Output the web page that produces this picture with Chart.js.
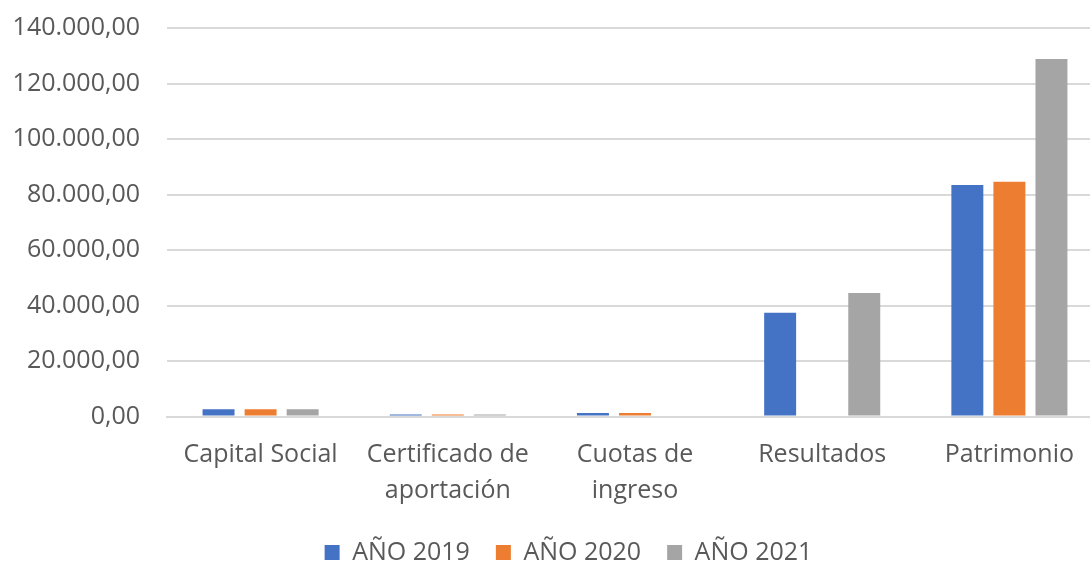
<!DOCTYPE html>
<html>
<head>
<meta charset="utf-8">
<script src="https://cdn.jsdelivr.net/npm/chart.js@4"></script>
<style>
  html, body { margin: 0; padding: 0; background: #fff; overflow: hidden; }
  #wrap { width: 1090px; height: 561px; overflow: hidden; }
</style>
</head>
<body>
<div id="wrap"><canvas id="myChart" width="1103" height="561"></canvas></div>
<script>
/* Datos ------------------------------------------------------------------ */
const categorias = [
  "Capital Social",
  ["Certificado de", "aportación"],
  ["Cuotas de", "ingreso"],
  "Resultados",
  "Patrimonio"
];
const anio2019 = [2600, 700, 1300, 37400, 83400];
const anio2020 = [2600, 700, 1300, 0, 84600];
const anio2021 = [2600, 700, 0, 44500, 128800];
const etiquetas = ["AÑO 2019", "AÑO 2020", "AÑO 2021"];
const colores = ["#4472C4", "#ED7D31", "#A5A5A5"];

/* Formato 140.000,00 --------------------------------------------------- */
function formato(v) {
  let partes = v.toFixed(2).split(".");
  partes[0] = partes[0].replace(/\B(?=(\d{3})+(?!\d))/g, ".");
  return partes.join(",");
}

const fuente = "'Open Sans', sans-serif";
const gris = "#595959";

/* Mover la leyenda un poco a la derecha ---------------------------------- */
const moverLeyenda = {
  id: "moverLeyenda",
  afterLayout(chart) {
    if (chart.legend) {
      chart.legend.left += 17;
      chart.legend.right += 17;
    }
  }
};

const data = {
  labels: categorias,
  datasets: [
    { label: etiquetas[0], data: anio2019, backgroundColor: colores[0] },
    { label: etiquetas[1], data: anio2020, backgroundColor: colores[1] },
    { label: etiquetas[2], data: anio2021, backgroundColor: colores[2] }
  ]
};

const config = {
  type: "bar",
  data: data,
  plugins: [moverLeyenda],
  options: {
    responsive: false,
    animation: false,
    datasets: {
      bar: { categoryPercentage: 0.674, barPercentage: 0.76 }
    },
    layout: { padding: { left: 0, right: 0, top: 28, bottom: -14 } },
    plugins: {
      legend: {
        position: "bottom",
        labels: {
          color: gris,
          font: { family: fuente, size: 25 },
          boxWidth: 15,
          boxHeight: 15,
          padding: 26
        }
      },
      tooltip: { enabled: false }
    },
    scales: {
      y: {
        min: 0,
        max: 140000,
        afterFit: (axis) => {
          axis.width = 167;
          axis.paddingTop = 0;
          axis.paddingBottom = 0;
        },
        ticks: {
          stepSize: 20000,
          color: gris,
          padding: 27,
          font: { family: fuente, size: 25 },
          callback: (v) => formato(v)
        },
        grid: { color: "#d9d9d9", lineWidth: 2, drawTicks: false },
        border: { display: false }
      },
      x: {
        afterFit: (axis) => { axis.height -= 7; },
        ticks: {
          color: gris,
          padding: 12,
          font: { family: fuente, size: 25, lineHeight: 1.45 },
          maxRotation: 0
        },
        grid: { display: false },
        border: { color: "#d9d9d9", width: 2 }
      }
    }
  }
};

let chartDOM = document.getElementById("myChart");
let myChart = new Chart(chartDOM, config);
</script>
</body>
</html>
